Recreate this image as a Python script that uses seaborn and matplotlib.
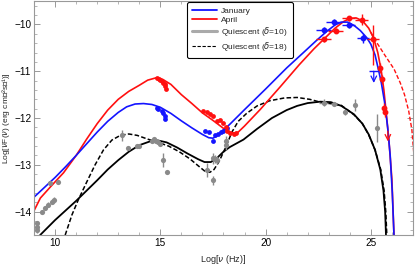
import numpy as np
import pandas as pd
import matplotlib
matplotlib.use('Agg')
import matplotlib.pyplot as plt
import seaborn as sns
from matplotlib.lines import Line2D

# ---- model curves ----
jan_x = [9.0, 9.5, 10.0, 10.5, 11.0, 11.5, 12.0, 12.5, 13.0, 13.4, 13.8, 14.2, 14.6, 15.0, 15.5,
         16.0, 16.5, 17.0, 17.3, 17.5, 17.7, 18.0, 18.33, 19.0, 20.0, 21.0, 21.8, 22.4, 22.9, 23.3,
         23.6, 23.9, 24.2, 24.5, 24.8, 25.0, 25.2, 25.38, 25.5, 25.65, 25.8, 25.92, 26.02, 26.1]
jan_y = [-13.69, -13.48, -13.27, -13.04, -12.8, -12.55, -12.3, -12.07, -11.88, -11.76, -11.7, -11.69, -11.71, -11.77, -11.9,
         -12.06, -12.21, -12.35, -12.42, -12.43, -12.38, -12.26, -12.12, -11.82, -11.38, -10.93, -10.6, -10.35, -10.15, -10.01,
         -9.95, -9.95, -10.02, -10.13, -10.28, -10.42, -10.65, -11.0, -11.25, -11.65, -12.2, -12.8, -13.6, -14.5]

apr_x = [9.0, 9.3, 9.8, 10.4, 11.0, 11.5, 12.0, 12.5, 13.0, 13.5, 14.0, 14.4, 14.8, 15.1, 15.5,
         16.0, 16.5, 17.0, 17.5, 18.0, 18.3, 18.5, 18.7, 19.0, 19.76, 20.7, 21.6, 22.3, 22.8, 23.3,
         23.7, 24.0, 24.3, 24.6, 24.9, 25.14, 25.33, 25.5, 25.62, 25.72, 25.86, 26.0, 26.1]
apr_y = [-13.98, -13.71, -13.46, -13.17, -12.8, -12.45, -12.12, -11.83, -11.6, -11.43, -11.3, -11.19, -11.14, -11.17, -11.28,
         -11.5, -11.69, -11.89, -12.05, -12.22, -12.3, -12.32, -12.3, -12.17, -11.81, -11.33, -10.86, -10.52, -10.3, -10.08,
         -9.94, -9.87, -9.86, -9.92, -10.08, -10.3, -10.6, -11.0, -11.4, -11.84, -12.48, -13.3, -14.5]

apr_dash_x = [25.0, 25.3, 25.7, 26.1, 26.4, 26.6, 26.8, 26.95, 27.05, 27.1, 27.13]
apr_dash_y = [-10.17, -10.4, -10.68, -10.95, -11.25, -11.5, -11.85, -12.25, -12.8, -13.6, -14.5]

q10_x = [9.29, 10.0, 11.0, 11.5, 12.0, 12.5, 13.0, 13.5, 14.0, 14.5, 14.9, 15.3, 15.8, 16.3, 16.8,
         17.1, 17.4, 17.7, 18.0, 18.3, 18.95, 19.6, 20.3, 21.0, 21.5, 22.0, 22.6, 23.1, 23.6, 24.2,
         24.6, 24.9, 25.2, 25.45, 25.6, 25.68, 25.72]
q10_y = [-14.5, -14.18, -13.77, -13.55, -13.33, -13.1, -12.9, -12.72, -12.58, -12.5, -12.48, -12.52, -12.63, -12.76, -12.88,
         -12.94, -12.94, -12.85, -12.72, -12.62, -12.46, -12.23, -12.0, -11.83, -11.74, -11.68, -11.65, -11.66, -11.74, -11.92,
         -12.12, -12.35, -12.68, -13.1, -13.55, -14.0, -14.5]

q18_x = [10.48, 10.8, 11.1, 11.5, 11.9, 12.3, 12.7, 13.1, 13.5, 13.9, 14.4, 14.9, 15.4, 15.9, 16.4,
         16.8, 17.1, 17.35, 17.55, 17.8, 18.1, 18.4, 18.7, 19.1, 19.6, 20.2, 20.9, 21.5, 22.1, 22.6,
         23.2, 23.6, 24.2, 24.6, 24.9, 25.2, 25.47, 25.63, 25.71, 25.76]
q18_y = [-14.5, -14.07, -13.75, -13.37, -13.0, -12.68, -12.47, -12.37, -12.34, -12.37, -12.45, -12.52, -12.6, -12.72, -12.87,
         -13.02, -13.13, -13.16, -13.1, -12.92, -12.63, -12.3, -12.07, -11.9, -11.74, -11.63, -11.57, -11.56, -11.6, -11.66,
         -11.7, -11.73, -11.93, -12.12, -12.36, -12.68, -13.1, -13.55, -14.0, -14.5]

# ---- observed points ----
gray_x = [9.12, 9.14, 9.16, 9.38, 9.52, 9.67, 9.86, 9.95, 9.76, 10.14, 13.19, 13.48, 13.9, 14.0,
          14.6, 14.7, 14.8, 14.9, 15.0, 15.14, 15.33, 17.24, 17.48, 17.52, 17.62, 17.71, 18.1, 18.14,
          22.76, 23.24, 23.76, 24.24, 25.29]
gray_y = [-14.25, -14.32, -14.4, -14.0, -13.92, -13.85, -13.79, -13.75, -13.39, -13.37, -12.37, -12.63, -12.6, -12.6,
          -12.5, -12.45, -12.5, -12.52, -12.55, -12.9, -13.16, -13.11, -13.33, -12.86, -12.88, -12.9, -12.58, -12.48,
          -11.67, -11.7, -11.88, -11.72, -12.22]
gray_yerr = [0.05, 0.05, 0.05, 0.04, 0.04, 0.05, 0.05, 0.06, 0.04, 0.04, 0.12, 0.03, 0.03, 0.03,
             0.03, 0.03, 0.03, 0.03, 0.03, 0.15, 0.03, 0.15, 0.1, 0.12, 0.08, 0.08, 0.1, 0.1,
             0.08, 0.04, 0.06, 0.12, 0.3]
gray_xerr = [0, 0, 0, 0, 0, 0, 0, 0, 0, 0, 0, 0, 0, 0,
             0, 0, 0, 0, 0, 0, 0, 0, 0, 0, 0, 0, 0, 0,
             0.2, 0.15, 0, 0, 0]

jan_ox = [14.86, 14.9, 15.1, 15.14, 15.24, 15.24, 17.14, 17.29, 17.48, 17.62, 17.76, 17.9, 18.0, 18.19]
jan_oy = [-11.78, -11.8, -11.84, -11.89, -11.95, -12.02, -12.27, -12.3, -12.48, -12.37, -12.33, -12.3, -12.27, -12.22]

jan_gx = [22.76, 23.24, 23.95, 24.62]
jan_gy = [-10.11, -9.94, -10.02, -10.3]
jan_gxerr = [0.35, 0.35, 0.3, 0.3]
jan_gyerr = [0.05, 0.05, 0.05, 0.1]
jan_ul_x = [25.14]
jan_ul_y = [-11.0]
jan_ul_xerr = [0.24]

apr_ox = [14.86, 14.95, 15.0, 15.1, 15.14, 15.2, 15.24, 15.29,
          17.05, 17.2, 17.38, 17.52, 17.71, 17.85, 18.0, 18.1, 18.19, 18.33, 18.48, 18.6]
apr_oy = [-11.14, -11.16, -11.18, -11.21, -11.25, -11.28, -11.31, -11.38,
          -11.84, -11.88, -11.91, -11.95, -12.06, -12.05, -12.1, -12.2, -12.27, -12.31, -12.33, -12.31]

apr_gx = [22.76, 23.33, 23.95, 24.57, 25.1, 25.43, 25.52, 25.62, 25.67]
apr_gy = [-10.32, -10.13, -9.87, -9.9, -10.32, -10.93, -11.17, -11.78, -11.88]
apr_gxerr = [0.35, 0.35, 0.3, 0.3, 0.3, 0, 0, 0, 0]
apr_gyerr_lo = [0.05, 0.05, 0.05, 0.12, 0.55, 0.1, 0.1, 0.1, 0.1]
apr_gyerr_hi = [0.05, 0.05, 0.05, 0.12, 0.3, 0.1, 0.1, 0.1, 0.1]
apr_ul_x = [25.81]
apr_ul_y = [-12.28]

BLUE = '#1414ff'
RED = '#ff1010'
GRAY = '#8a8a8a'

sns.set_style('ticks')
plt.rcParams['font.family'] = ['Liberation Sans', 'DejaVu Sans']
plt.rcParams['mathtext.fontset'] = 'dejavusans'

fig = plt.figure(figsize=(4.15, 2.65), dpi=100)
ax = fig.add_axes([0.082, 0.113, 0.913, 0.883])

# curves
sns.lineplot(x=q10_x, y=q10_y, ax=ax, color='black', lw=1.3, sort=False, estimator=None)
sns.lineplot(x=q18_x, y=q18_y, ax=ax, color='black', lw=1.1, sort=False, estimator=None,
             linestyle=(0, (3, 1.5)))
sns.lineplot(x=apr_dash_x, y=apr_dash_y, ax=ax, color=RED, lw=1.0, sort=False, estimator=None,
             linestyle=(0, (3, 1.5)))
sns.lineplot(x=apr_x, y=apr_y, ax=ax, color=RED, lw=1.2, sort=False, estimator=None)
sns.lineplot(x=jan_x, y=jan_y, ax=ax, color=BLUE, lw=1.2, sort=False, estimator=None)

# observed data
ax.errorbar(gray_x, gray_y, yerr=gray_yerr, xerr=gray_xerr, fmt='none', ecolor=GRAY, elinewidth=1.0)
sns.scatterplot(x=gray_x, y=gray_y, ax=ax, color=GRAY, s=14, linewidth=0, zorder=3)

sns.scatterplot(x=jan_ox, y=jan_oy, ax=ax, color=BLUE, s=12, linewidth=0, zorder=4)
sns.scatterplot(x=apr_ox, y=apr_oy, ax=ax, color=RED, s=12, linewidth=0, zorder=4)

ax.errorbar(jan_gx, jan_gy, xerr=jan_gxerr, yerr=jan_gyerr, fmt='o', color=BLUE, ms=3.2, elinewidth=1.0)
ax.errorbar(apr_gx, apr_gy, xerr=apr_gxerr, yerr=[apr_gyerr_lo, apr_gyerr_hi], fmt='o', color=RED,
            ms=3.2, elinewidth=1.0)
ax.errorbar(jan_ul_x, jan_ul_y, xerr=jan_ul_xerr, fmt='none', ecolor=BLUE, elinewidth=1.0)
for x, y in zip(jan_ul_x, jan_ul_y):
    ax.annotate('', xy=(x, y - 0.25), xytext=(x, y),
                arrowprops=dict(arrowstyle='->', color=BLUE, lw=0.9, shrinkA=0, shrinkB=0))
for x, y in zip(apr_ul_x, apr_ul_y):
    ax.annotate('', xy=(x, y - 0.22), xytext=(x, y),
                arrowprops=dict(arrowstyle='->', color=RED, lw=0.9, shrinkA=0, shrinkB=0))

# frame in the Mathematica style
ax.set_xlim(9, 27)
ax.set_ylim(-14.5, -9.5)
ax.set_xticks([10, 15, 20, 25])
ax.set_xticks(np.arange(9, 28, 1), minor=True)
ax.set_yticks([-14, -13, -12, -11, -10])
ax.set_yticks(np.arange(-14.4, -9.5, 0.2), minor=True)
ax.set_yticklabels(['\u221214', '\u221213', '\u221212', '\u221211', '\u221210'])
ax.tick_params(which='both', direction='in', top=True, right=True, color='#999999',
               labelsize=7.2, pad=2, labelcolor='black')
ax.tick_params(which='major', length=4, width=0.7)
ax.tick_params(which='minor', length=2, width=0.5)
for s in ax.spines.values():
    s.set_color('#999999')
    s.set_linewidth(0.8)

ax.set_xlabel('Log[$\\nu$ (Hz)]', fontsize=6.5, labelpad=4)
ax.set_ylabel('Log[$\\nu$F($\\nu$) (erg cm\u207b\u00b2s\u207b\u00b9)]', fontsize=6)
ax.yaxis.set_label_coords(-0.058, 0.5)

# legend
handles = [Line2D([], [], color=BLUE, lw=1.3),
           Line2D([], [], color=RED, lw=1.3),
           Line2D([], [], color='#aaaaaa', lw=2.2),
           Line2D([], [], color='black', lw=0.8, linestyle=(0, (3, 1.5)))]
labels = ['January', 'April', 'Quiescent ($\\delta$=10)', 'Quiescent ($\\delta$=18)']
leg = ax.legend(handles, labels, loc='upper left', bbox_to_anchor=(0.404, 0.995), fontsize=6,
                frameon=True, fancybox=True, handlelength=3.0, handletextpad=0.5,
                labelspacing=0.15, borderpad=0.6, borderaxespad=0)
leg.get_frame().set_edgecolor('black')
leg.get_frame().set_linewidth(0.8)
leg.get_frame().set_alpha(1)

fig.savefig('out.png', dpi=100)
